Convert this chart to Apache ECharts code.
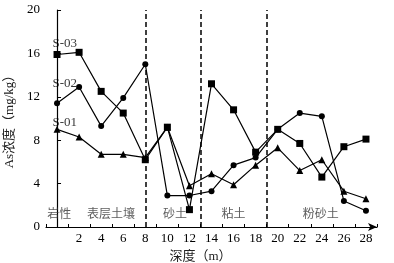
<!DOCTYPE html>
<html>
<head>
<meta charset="utf-8">
<style>
  html, body { margin: 0; padding: 0; background: #fff; }
  #chart { width: 394px; height: 263px; }
</style>
<script src="https://cdn.jsdelivr.net/npm/echarts@6/dist/echarts.min.js"></script>
</head>
<body>
<div id="chart"></div>
<script>
// depth (m)
var depths = [0, 2, 4, 6, 8, 10, 12, 14, 16, 18, 20, 22, 24, 26, 28];
// As concentration (mg/kg)
var s01 = [9.0, 8.3, 6.7, 6.7, 6.4, 9.2, 3.8, 4.9, 3.9, 5.7, 7.3, 5.2, 6.2, 3.3, 2.6];
var s02 = [11.4, 12.9, 9.3, 11.9, 15.0, 2.9, 2.9, 3.3, 5.7, 6.4, 9.0, 10.5, 10.2, 2.4, 1.5];
var s03 = [15.9, 16.1, 12.5, 10.5, 6.2, 9.2, 1.6, 13.2, 10.8, 6.9, 9.0, 7.7, 4.6, 7.4, 8.1];
var yTicks = [0, 4, 8, 12, 16, 20];
// layer boundaries and names
var boundaries = [8, 13, 19];
var layerNames = ['岩性', '表层土壤', '砂土', '粘土', '粉砂土'];
var layerX = [0.2, 4.9, 10.7, 16.0, 23.9];
var layerY = 1.1;
var tagNames = ['S-01', 'S-02', 'S-03'];
var tagPos = [[0.7, 9.65], [0.7, 13.2], [0.7, 16.95]];

var serif = "'Liberation Serif', 'Noto Sans CJK SC', serif";

function pairs(ys) {
  return depths.map(function (d, i) { return [d, ys[i]]; });
}

var chart = echarts.init(document.getElementById('chart'));

var lineBase = {
  type: 'line',
  xAxisIndex: 0,
  symbolSize: 6,
  lineStyle: { color: '#000', width: 1.2 },
  itemStyle: { color: '#000' },
  animation: false
};

chart.setOption({
  animation: false,
  grid: { left: 46, right: 17, top: 10, bottom: 36, outerBoundsMode: 'none' },
  xAxis: [{
    type: 'value',
    min: -1,
    max: 29,
    interval: 1,
    name: '深度（m）',
    nameLocation: 'middle',
    nameGap: 19,
    nameTextStyle: { fontFamily: serif, fontSize: 13, color: '#222', padding: [0, 22, 0, 0] },
    axisLine: { lineStyle: { color: '#000', width: 1.2 }, symbol: ['none', 'arrow'], symbolSize: [6, 9] },
    axisTick: { show: false },
    splitLine: { show: false },
    axisLabel: {
      fontFamily: serif, fontSize: 13, color: '#000', margin: 5,
      formatter: function (v) { return (v > 0 && v <= 28 && v % 2 === 0) ? String(v) : ''; }
    }
  }, {
    type: 'value',
    position: 'bottom',
    min: -1,
    max: 29,
    interval: 2,
    axisLine: { show: false },
    axisTick: { show: true, inside: true, length: 3, lineStyle: { color: '#000' } },
    axisLabel: { show: false },
    splitLine: { show: false }
  }],
  yAxis: {
    type: 'value',
    min: yTicks[0],
    max: yTicks[yTicks.length - 1],
    interval: 4,
    name: 'As浓度（mg/kg）',
    nameLocation: 'middle',
    nameGap: 24,
    nameTextStyle: { fontFamily: serif, fontSize: 13, color: '#222' },
    axisLine: { show: true, lineStyle: { color: '#000', width: 1.2 } },
    axisTick: { show: true, inside: true, length: 4, lineStyle: { color: '#000' } },
    splitLine: { show: false },
    axisLabel: { fontFamily: serif, fontSize: 13, color: '#000', margin: 6 }
  },
  series: [
    Object.assign({}, lineBase, {
      name: 'S-01', symbol: 'triangle', symbolSize: 7, data: pairs(s01),
      markLine: {
        silent: true,
        symbol: 'none',
        label: { show: false },
        lineStyle: { color: '#000', type: [5, 3], width: 1.5 },
        data: boundaries.map(function (b) { return { xAxis: b }; })
      }
    }),
    Object.assign({}, lineBase, { name: 'S-02', symbol: 'circle', symbolSize: 6, data: pairs(s02) }),
    Object.assign({}, lineBase, { name: 'S-03', symbol: 'rect', symbolSize: 7, data: pairs(s03) }),
    {
      type: 'scatter',
      symbolSize: 0,
      silent: true,
      data: layerNames.map(function (n, i) { return { value: [layerX[i], layerY], name: n }; }),
      label: {
        show: true, position: 'inside', formatter: '{b}',
        fontFamily: serif, fontSize: 12, color: '#333'
      }
    },
    {
      type: 'scatter',
      symbolSize: 0,
      silent: true,
      data: tagNames.map(function (n, i) { return { value: tagPos[i], name: n }; }),
      label: {
        show: true, position: 'inside', formatter: '{b}',
        fontFamily: serif, fontSize: 13, color: '#000'
      }
    }
  ]
});
</script>
</body>
</html>
